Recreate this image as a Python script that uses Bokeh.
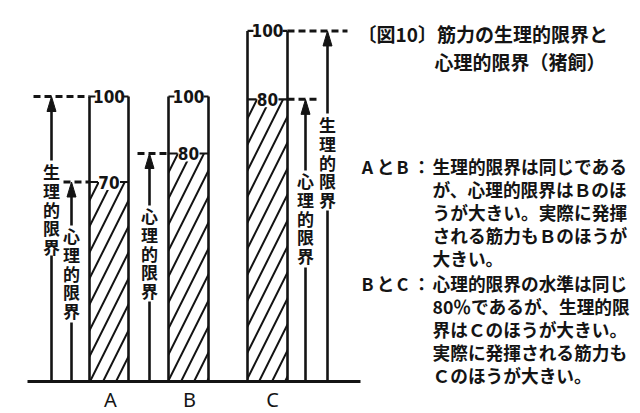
from bokeh.plotting import figure
from bokeh.models import Range1d
from bokeh.core.properties import value
from bokeh.embed import file_html
from bokeh.resources import INLINE

# ---------------- data ----------------
groups = ["A", "B", "C"]
physio_limit = [100, 100, 123]        # physiological limit (A = 100)
psych_limit = [70, 80, 99]            # psychological limit, same scale
physio_pct = ["100", "100", "100"]    # labels at the top of each frame
psych_pct = ["70", "80", "80"]        # labels at the psychological limit

vlabel_phys = "生理的限界"
vlabel_psych = "心理的限界"

title_lines = ["〔図10〕筋力の生理的限界と", "心理的限界（猪飼）"]
note_heads = ["AとB：", "BとC："]
note_body_1 = ["生理的限界は同じである", "が、心理的限界はＢのほ",
               "うが大きい。実際に発揮", "される筋力もＢのほうが", "大きい。"]
note_body_2 = ["心理的限界の水準は同じ", "80％であるが、生理的限",
               "界はＣのほうが大きい。", "実際に発揮される筋力も", "Ｃのほうが大きい。"]

# ---------------- layout ----------------
W, H = 640, 413
BASE_PX = 381.0           # page y of the baseline
PPU = 2.85                # pixels per data unit


def yd(px):
    return (BASE_PX - px) / PPU


def dl(px):
    return px / PPU


INK = "#141414"
JP = value("Noto Sans CJK JP")
NUM = value("Liberation Sans Narrow, DejaVu Sans Condensed, Liberation Sans")

p = figure(width=W, height=H, x_range=Range1d(0, W),
           y_range=Range1d(yd(H), yd(0)),
           output_backend="svg", toolbar_location=None,
           x_axis_location=None, y_axis_location=None, min_border=0)
p.grid.visible = False
p.outline_line_color = None
p.background_fill_color = "white"
p.border_fill_color = "white"

bar_left = [89, 168, 247]
bar_right = [128, 208, 287]
bar_mid = [(l + r) / 2 for l, r in zip(bar_left, bar_right)]

# hatched part = psychological limit
p.quad(left=bar_left, right=bar_right, bottom=[0, 0, 0], top=psych_limit,
       fill_color="white", line_color=None, hatch_pattern="/",
       hatch_color=INK, hatch_scale=26, hatch_weight=2.0)

# frame lines up to the physiological limit
p.segment(x0=bar_left + bar_right, y0=[0] * 6, x1=bar_left + bar_right,
          y1=physio_limit + physio_limit, line_width=2.6, line_color=INK)

# top hooks and "100" labels
p.segment(x0=bar_left, y0=physio_limit, x1=[l + 6 for l in bar_left], y1=physio_limit,
          line_width=2.2, line_color=INK)
p.segment(x0=[r - 5 for r in bar_right], y0=physio_limit, x1=bar_right, y1=physio_limit,
          line_width=2.2, line_color=INK)
p.text(x=bar_mid, y=physio_limit, text=physio_pct, text_align="center",
       text_baseline="middle", text_font=NUM, text_font_size="17px",
       text_font_style="bold", text_color=INK)

# psychological-limit labels with white box
p.quad(left=[m - 10 for m in bar_mid], right=[m + 10 for m in bar_mid],
       bottom=[v - dl(8) for v in psych_limit], top=[v + dl(8) for v in psych_limit],
       fill_color="white", line_color=None)
p.segment(x0=bar_left, y0=psych_limit, x1=[m - 11 for m in bar_mid], y1=psych_limit,
          line_width=2.2, line_color=INK)
p.segment(x0=[m + 11 for m in bar_mid], y0=psych_limit, x1=bar_right, y1=psych_limit,
          line_width=2.2, line_color=INK)
p.text(x=bar_mid, y=psych_limit, text=psych_pct, text_align="center",
       text_baseline="middle", text_font=NUM, text_font_size="17px",
       text_font_style="bold", text_color=INK)

# dashed guide lines
dash_x0 = [33, 63, 137, 287, 287]
dash_x1 = [bar_left[0], bar_left[0], bar_left[1], 317, 347]
dash_y = [physio_limit[0], psych_limit[0], psych_limit[1], psych_limit[2], physio_limit[2]]
p.segment(x0=dash_x0, y0=dash_y, x1=dash_x1, y1=dash_y, line_width=3,
          line_color=INK, line_dash="7 4")

# vertical arrows with vertical labels
arrow_x = [51, 71, 149, 305, 327]
arrow_level = [physio_limit[0], psych_limit[0], psych_limit[1], psych_limit[2], physio_limit[2]]
arrow_text = [vlabel_phys, vlabel_psych, vlabel_psych, vlabel_psych, vlabel_phys]
first_char_px = [171, 235, 215, 180, 124]
gap_top_px = [160, 225, 205, 170, 113]
gap_bot_px = [255, 322, 301, 267, 210]
CH_STEP = 18.8
HEAD_L, HEAD_W = 15, 4.5

p.segment(x0=arrow_x, y0=[0] * 5, x1=arrow_x, y1=[yd(g) for g in gap_bot_px],
          line_width=2.6, line_color=INK)
p.segment(x0=arrow_x, y0=[yd(g) for g in gap_top_px], x1=arrow_x,
          y1=[lv - dl(HEAD_L - 2) for lv in arrow_level], line_width=2.6, line_color=INK)
p.patches(xs=[[x, x - HEAD_W, x + HEAD_W] for x in arrow_x],
          ys=[[lv, lv - dl(HEAD_L), lv - dl(HEAD_L)] for lv in arrow_level],
          fill_color=INK, line_color=INK, line_width=1)

vx, vy, vt = [], [], []
for x, t, f in zip(arrow_x, arrow_text, first_char_px):
    for i, ch in enumerate(t):
        vx.append(x)
        vy.append(yd(f + i * CH_STEP))
        vt.append(ch)
p.text(x=vx, y=vy, text=vt, text_align="center", text_baseline="middle",
       text_font=JP, text_font_size="17px", text_font_style="bold", text_color=INK)

# baseline
p.segment(x0=[27], y0=[0], x1=[360], y1=[0], line_width=3, line_color=INK)

# group labels
p.text(x=[110, 189, 272], y=[yd(399)] * 3, text=groups, text_align="center",
       text_baseline="middle", text_font=value("Noto Sans"), text_font_size="20px",
       text_color=INK)

# title
p.text(x=[357, 434], y=[yd(33), yd(61)], text=title_lines, text_align="left",
       text_baseline="middle", text_font=JP, text_font_size="19px",
       text_font_style="bold", text_color=INK)

# notes
body_y1 = [165, 188, 211, 234, 257]
body_y2 = [282, 305, 328, 351, 374]
p.text(x=[432] * 10, y=[yd(v) for v in body_y1 + body_y2], text=note_body_1 + note_body_2,
       text_align="left", text_baseline="middle", text_font=JP,
       text_font_size="17.7px", text_font_style="bold", text_color=INK)
head_x = [367, 385, 402, 421]
hx, hy, ht = [], [], []
for head, yy in zip(note_heads, [body_y1[0], body_y2[0]]):
    for x, ch in zip(head_x, head):
        hx.append(x)
        hy.append(yd(yy))
        ht.append(ch)
p.text(x=hx, y=hy, text=ht, text_align="center", text_baseline="middle",
       text_font=JP, text_font_size="17.7px", text_font_style="bold", text_color=INK)

open("out.html", "w").write(file_html(p, INLINE))
